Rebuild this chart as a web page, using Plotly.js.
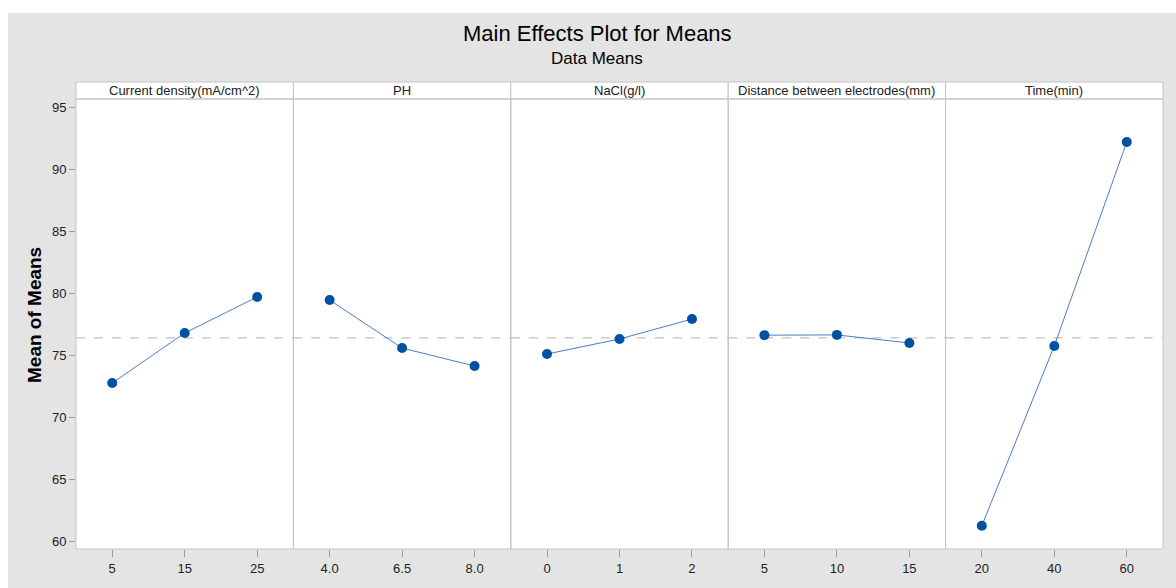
<!DOCTYPE html>
<html>
<head>
<meta charset="utf-8">
<script src="https://cdn.plot.ly/plotly-3.0.1.min.js"></script>
<style>html,body{margin:0;padding:0;background:#fff;}#chart{width:1176px;height:588px;}</style>
</head>
<body>
<div id="chart"></div>
<script>
// ---- data ----
const factorNames = ["Current density(mA/cm^2)", "PH", "NaCl(g/l)", "Distance between electrodes(mm)", "Time(min)"];
const currentLevels = ["5", "15", "25"];
const currentMeans = [72.74, 76.77, 79.68];
const phLevels = ["4.0", "6.5", "8.0"];
const phMeans = [79.43, 75.56, 74.11];
const naclLevels = ["0", "1", "2"];
const naclMeans = [75.08, 76.29, 77.90];
const distLevels = ["5", "10", "15"];
const distMeans = [76.60, 76.62, 75.97];
const timeLevels = ["20", "40", "60"];
const timeMeans = [61.23, 75.73, 92.18];
const grandMean = 76.38;
const yTicks = [60, 65, 70, 75, 80, 85, 90, 95];

const levels = [currentLevels, phLevels, naclLevels, distLevels, timeLevels];
const means = [currentMeans, phMeans, naclMeans, distMeans, timeMeans];

// ---- geometry (pixels) ----
const W = 1176, H = 588;
const mL = 76, mR = 13, mT = 82, mB = 39;
const plotW = W - mL - mR, plotH = H - mT - mB;
const headerH = 17;
const domTop = (plotH - headerH) / plotH;
const px2x = p => (p - mL) / plotW;
const py2y = p => (H - mB - p) / plotH;

const FONT = "Liberation Sans, Arial, sans-serif";
const nP = factorNames.length;

const traces = [];
const layout = {
  width: W, height: H,
  margin: {l: mL, r: mR, t: mT, b: mB, pad: 0},
  paper_bgcolor: "#e4e4e4",
  plot_bgcolor: "#ffffff",
  showlegend: false,
  font: {family: FONT, size: 13, color: "#222"},
  shapes: [],
  annotations: [],
  yaxis: {
    range: [59.355, 95.645],
    domain: [0, domTop],
    tickvals: yTicks,
    ticks: "outside", ticklen: 6, tickcolor: "#9a9a9a",
    showgrid: false, zeroline: false, showline: false,
    tickfont: {family: FONT, size: 13, color: "#222"},
    anchor: "x"
  }
};

for (let i = 0; i < nP; i++) {
  const xa = i === 0 ? "x" : "x" + (i + 1);
  const xaKey = i === 0 ? "xaxis" : "xaxis" + (i + 1);
  traces.push({
    type: "scatter", mode: "lines+markers",
    x: levels[i], y: means[i],
    xaxis: xa, yaxis: "y",
    line: {color: "#4d7cc4", width: 1},
    marker: {color: "#0050a4", size: 10, symbol: "circle"},
    hoverinfo: "x+y"
  });
  layout[xaKey] = {
    type: "category",
    domain: [i / nP, (i + 1) / nP],
    range: [-0.5, levels[i].length - 0.5],
    anchor: "y",
    ticks: "outside", ticklen: 7, tickcolor: "#9a9a9a",
    showgrid: false, zeroline: false, showline: false,
    tickfont: {family: FONT, size: 13, color: "#222"}
  };
  // grand mean reference line per panel
  layout.shapes.push({
    type: "line", xref: xa + " domain", yref: "y",
    x0: 0, x1: 1, y0: grandMean, y1: grandMean,
    line: {color: "#b0b0b0", width: 1, dash: "dash"}, layer: "below"
  });
  // header strip
  layout.shapes.push({
    type: "rect", xref: "paper", yref: "paper",
    x0: i / nP, x1: (i + 1) / nP, y0: domTop, y1: 1,
    fillcolor: "#ffffff", line: {color: "#c4c4c4", width: 1}, layer: "above"
  });
  layout.annotations.push({
    text: factorNames[i], xref: "paper", yref: "paper",
    x: (i + 0.5) / nP, y: (domTop + 1) / 2, xanchor: "center", yanchor: "middle",
    showarrow: false, font: {family: FONT, size: 13, color: "#222"}
  });
  // panel frame
  layout.shapes.push({
    type: "rect", xref: "paper", yref: "paper",
    x0: i / nP, x1: (i + 1) / nP, y0: 0, y1: domTop,
    line: {color: "#c4c4c4", width: 1}, layer: "above"
  });
}

// white border strips of the image (top & left)
layout.shapes.push({type: "rect", xref: "paper", yref: "paper",
  x0: px2x(-2), x1: px2x(W + 2), y0: py2y(13), y1: py2y(-2),
  fillcolor: "#ffffff", line: {width: 0}, layer: "below"});
layout.shapes.push({type: "rect", xref: "paper", yref: "paper",
  x0: px2x(-2), x1: px2x(8), y0: py2y(H + 2), y1: py2y(-2),
  fillcolor: "#ffffff", line: {width: 0}, layer: "below"});

// titles
layout.annotations.push({
  text: "Main Effects Plot for Means", xref: "paper", yref: "paper",
  x: px2x(597), y: py2y(34), xanchor: "center", yanchor: "middle", showarrow: false,
  font: {family: FONT, size: 22, color: "#000"}
});
layout.annotations.push({
  text: "Data Means", xref: "paper", yref: "paper",
  x: px2x(597), y: py2y(58), xanchor: "center", yanchor: "middle", showarrow: false,
  font: {family: FONT, size: 17, color: "#000"}
});
layout.annotations.push({
  text: "<b>Mean of Means</b>", xref: "paper", yref: "paper",
  x: px2x(34), y: py2y(315), xanchor: "center", yanchor: "middle", showarrow: false,
  textangle: -90, font: {family: FONT, size: 19, color: "#000"}
});

Plotly.newPlot("chart", traces, layout, {displayModeBar: false, staticPlot: true});
</script>
</body>
</html>
